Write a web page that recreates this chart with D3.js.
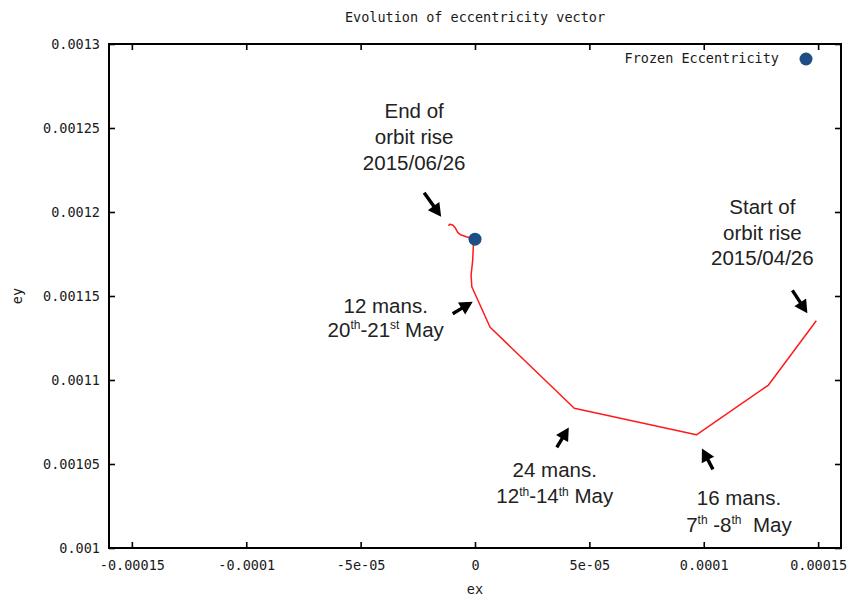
<!DOCTYPE html>
<html>
<head>
<meta charset="utf-8">
<script src="https://cdn.jsdelivr.net/npm/d3@7"></script>
<style>
  body { margin: 0; background: #fff; }
  .mono { font-family: "DejaVu Sans Mono", "Liberation Mono", monospace; font-size: 13.5px; fill: #1a1a1a; }
  .note { font-family: "Liberation Sans", Arial, sans-serif; font-size: 20.5px; fill: #222; white-space: pre; }
</style>
</head>
<body>
<svg id="chart" width="852" height="600"></svg>
<script>
// Axis ticks and their labels (gnuplot-style formatting)
const xTicks = [-0.00015, -0.0001, -0.00005, 0, 0.00005, 0.0001, 0.00015];
const xTickLabels = ["-0.00015", "-0.0001", "-5e-05", "0", "5e-05", "0.0001", "0.00015"];
const yTicks = [0.001, 0.00105, 0.0011, 0.00115, 0.0012, 0.00125, 0.0013];
const yTickLabels = ["0.001", "0.00105", "0.0011", "0.00115", "0.0012", "0.00125", "0.0013"];

// Eccentricity vector trajectory, from start of orbit rise to its end
const trajEx = [0.0001492, 0.0001283, 0.0000968, 0.0000434, 0.0000066, -0.0000014, -0.0000017,
                -0.0000010, -0.0000007, 0.0000000, -0.0000038, -0.0000060, -0.0000075,
                -0.0000085, -0.0000097, -0.0000111, -0.0000116];
const trajEy = [0.0011353, 0.0010970, 0.0010674, 0.0010832, 0.0011314, 0.0011555, 0.0011625,
                0.0011714, 0.0011804, 0.0011838, 0.0011853, 0.0011863, 0.0011877,
                0.0011903, 0.0011923, 0.0011927, 0.0011917];

// Frozen eccentricity target
const frozenEx = [0.0];
const frozenEy = [0.0011838];

// Annotation anchors (points the arrows touch), in ex/ey units, and their text
const noteEx = [-0.0000148, -0.0000010, 0.0001453, 0.0000410, 0.0000992];
const noteEy = [0.0011972, 0.0011466, 0.0011397, 0.0010718, 0.0010593];
const noteText = [
  ["End of", "orbit rise", "2015/06/26"],
  ["12 mans.", "20{th}-21{st} May"],
  ["Start of", "orbit rise", "2015/04/26"],
  ["24 mans.", "12{th}-14{th} May"],
  ["16 mans.", "7{th} -8{th}  May"]
];

// Pixel offsets of arrow tails and text blocks relative to each anchor
const noteLayout = [
  { tail: [-17, -24], text: [-27, -99], lh: 26 },
  { tail: [-20, 12],  text: [-87, 11],  lh: 24 },
  { tail: [-15, -23], text: [-45, -99], lh: 25.5 },
  { tail: [-12, 20],  text: [-14, 50],  lh: 26 },
  { tail: [11, 21],   text: [37, 57],   lh: 26.5 }
];

const svg = d3.select("#chart");
const frame = { left: 109, right: 841, top: 44, bottom: 548 };

const x = d3.scaleLinear().domain([-0.00016, 0.00016]).range([frame.left, frame.right]);
const y = d3.scaleLinear().domain([0.001, 0.0013]).range([frame.bottom, frame.top]);

const tickLen = 6;

// Title
svg.append("text").attr("class", "mono")
  .attr("x", (frame.left + frame.right) / 2).attr("y", 22)
  .attr("text-anchor", "middle").text("Evolution of eccentricity vector");

// Bottom axis with labels, ticks pointing inward
const xAxis = d3.axisBottom(x).tickValues(xTicks).tickSize(-tickLen).tickPadding(12)
  .tickFormat((d, i) => xTickLabels[i]);
const gx = svg.append("g").attr("transform", `translate(0,${frame.bottom})`).call(xAxis);
// Top mirror ticks
const gxt = svg.append("g").attr("transform", `translate(0,${frame.top})`)
  .call(d3.axisTop(x).tickValues(xTicks).tickSize(-tickLen).tickFormat(""));
// Left axis with labels
const yAxis = d3.axisLeft(y).tickValues(yTicks).tickSize(-tickLen).tickPadding(9)
  .tickFormat((d, i) => yTickLabels[i]);
const gy = svg.append("g").attr("transform", `translate(${frame.left},0)`).call(yAxis);
// Right mirror ticks
const gyr = svg.append("g").attr("transform", `translate(${frame.right},0)`)
  .call(d3.axisRight(y).tickValues(yTicks).tickSize(-tickLen).tickFormat(""));

[gx, gxt, gy, gyr].forEach(g => {
  g.select(".domain").remove();
  g.selectAll(".tick line").attr("stroke", "#000").attr("stroke-width", 1.6);
  g.selectAll(".tick text").attr("class", "mono").attr("font-family", null).attr("font-size", null);
});

// Plot border
svg.append("rect")
  .attr("x", frame.left).attr("y", frame.top)
  .attr("width", frame.right - frame.left).attr("height", frame.bottom - frame.top)
  .attr("fill", "none").attr("stroke", "#000").attr("stroke-width", 2);

// Axis titles
svg.append("text").attr("class", "mono").attr("x", (frame.left + frame.right) / 2).attr("y", 594)
  .attr("text-anchor", "middle").text("ex");
svg.append("text").attr("class", "mono")
  .attr("transform", `translate(22,${(frame.top + frame.bottom) / 2}) rotate(-90)`)
  .attr("text-anchor", "middle").text("ey");

// Trajectory
const traj = trajEx.map((v, i) => [v, trajEy[i]]);
svg.append("path").datum(traj)
  .attr("fill", "none").attr("stroke", "#ff1a1a").attr("stroke-width", 1.5)
  .attr("stroke-linejoin", "round")
  .attr("d", d3.line().x(d => x(d[0])).y(d => y(d[1])));

// Frozen eccentricity point
const dotColor = "#1f4e86";
svg.selectAll("circle.frozen").data(frozenEx.map((v, i) => [v, frozenEy[i]]))
  .join("circle").attr("class", "frozen")
  .attr("cx", d => x(d[0])).attr("cy", d => y(d[1])).attr("r", 6.5)
  .attr("fill", dotColor);

// Legend
svg.append("text").attr("class", "mono").attr("x", 779).attr("y", 63)
  .attr("text-anchor", "end").text("Frozen Eccentricity");
svg.append("circle").attr("cx", 806).attr("cy", 59).attr("r", 6.5).attr("fill", dotColor);

// Block arrow from tail to tip
function arrowPath(tx, ty, hx, hy) {
  const dx = hx - tx, dy = hy - ty, len = Math.hypot(dx, dy);
  const ux = dx / len, uy = dy / len, px = -uy, py = ux;
  const head = 13, hw = 7, sw = 1.7;
  const bx = hx - ux * head, by = hy - uy * head;
  const pts = [
    [tx + px * sw, ty + py * sw],
    [bx + px * sw, by + py * sw],
    [bx + px * hw, by + py * hw],
    [hx, hy],
    [bx - px * hw, by - py * hw],
    [bx - px * sw, by - py * sw],
    [tx - px * sw, ty - py * sw]
  ];
  return "M" + pts.map(p => p.join(",")).join("L") + "Z";
}

// Text with {..} marking superscripts
function richLine(sel, str) {
  const parts = str.split(/(\{[^}]*\})/).filter(s => s.length);
  let raised = false;
  parts.forEach(p => {
    if (p.startsWith("{")) {
      sel.append("tspan").attr("font-size", "12px").attr("dy", raised ? 0 : -7.5).text(p.slice(1, -1));
      raised = true;
    } else {
      sel.append("tspan").attr("dy", raised ? 7.5 : 0).text(p);
      raised = false;
    }
  });
}

noteEx.forEach((ex, i) => {
  const hx = x(ex), hy = y(noteEy[i]);
  const L = noteLayout[i];
  svg.append("path").attr("d", arrowPath(hx + L.tail[0], hy + L.tail[1], hx, hy)).attr("fill", "#000");
  noteText[i].forEach((line, j) => {
    const t = svg.append("text").attr("class", "note")
      .attr("x", hx + L.text[0]).attr("y", hy + L.text[1] + j * L.lh)
      .attr("text-anchor", "middle");
    richLine(t, line);
  });
});
</script>
</body>
</html>
